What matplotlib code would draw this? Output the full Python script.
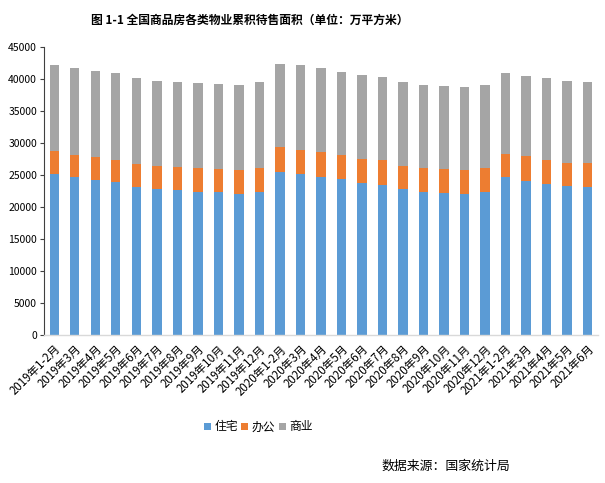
import matplotlib
matplotlib.use("Agg")
import matplotlib.pyplot as plt
import numpy as np

plt.rcParams['font.family'] = ['Noto Sans CJK SC', 'DejaVu Sans']

categories = ["2019年1-2月", "2019年3月", "2019年4月", "2019年5月", "2019年6月", "2019年7月",
              "2019年8月", "2019年9月", "2019年10月", "2019年11月", "2019年12月",
              "2020年1-2月", "2020年3月", "2020年4月", "2020年5月", "2020年6月", "2020年7月",
              "2020年8月", "2020年9月", "2020年10月", "2020年11月", "2020年12月",
              "2021年1-2月", "2021年3月", "2021年4月", "2021年5月", "2021年6月"]

residential = [25100, 24700, 24200, 23900, 23100, 22800, 22600, 22400, 22300, 22100, 22300,
               25500, 25100, 24750, 24300, 23700, 23400, 22850, 22300, 22150, 22000, 22300,
               24700, 24000, 23550, 23300, 23050]
office = [3650, 3350, 3650, 3400, 3550, 3650, 3650, 3700, 3650, 3650, 3800,
          3850, 3800, 3800, 3750, 3750, 3850, 3550, 3800, 3800, 3700, 3800,
          3550, 3900, 3800, 3600, 3750]
commercial = [13300, 13550, 13400, 13500, 13400, 13250, 13300, 13150, 13150, 13200, 13300,
              13000, 13150, 13050, 13050, 13100, 12950, 13000, 12900, 12900, 12950, 12900,
              12700, 12500, 12700, 12700, 12750]

series_names = ["住宅", "办公", "商业"]
colors = ["#5B9BD5", "#ED7D31", "#A5A5A5"]
yticks = list(range(0, 45001, 5000))

fig = plt.figure(figsize=(6.05, 4.83), dpi=100)
ax = fig.add_axes([0.0727, 0.3054, 0.9153, 0.5983])

x = np.arange(len(categories))
w = 0.46
res = np.array(residential)
off = np.array(office)
com = np.array(commercial)
ax.bar(x, res, w, color=colors[0], label=series_names[0])
ax.bar(x, off, w, bottom=res, color=colors[1], label=series_names[1])
ax.bar(x, com, w, bottom=res + off, color=colors[2], label=series_names[2])

ax.set_xlim(-0.5, len(categories) - 0.5)
ax.set_ylim(0, 45000)
ax.set_yticks(yticks)
ax.set_yticklabels([str(v) for v in yticks], fontsize=7.5)
ax.set_xticks(x)
ax.set_xticklabels(categories, rotation=45, ha='right', rotation_mode='anchor', fontsize=8.3)
ax.tick_params(axis='x', length=0, pad=5)
ax.tick_params(axis='y', length=3, width=0.8, color='#404040', pad=2)

for s in ['top', 'right']:
    ax.spines[s].set_visible(False)
ax.spines['left'].set_color('#404040')
ax.spines['left'].set_linewidth(0.8)
ax.spines['bottom'].set_color('#D9D9D9')
ax.spines['bottom'].set_linewidth(1.0)

fig.text(0.412, 0.957, "图 1-1 全国商品房各类物业累积待售面积（单位：万平方米）",
         ha='center', va='center', fontsize=8.5, fontweight='bold')

leg = fig.legend(loc='center', bbox_to_anchor=(0.427, 0.116), ncol=3, frameon=False,
                 fontsize=8.5, handlelength=0.6, handleheight=0.6, handletextpad=0.3,
                 columnspacing=0.3)

fig.text(0.843, 0.034, "数据来源：国家统计局", ha='right', va='center', fontsize=9.3)

fig.savefig("out.png", dpi=100)
